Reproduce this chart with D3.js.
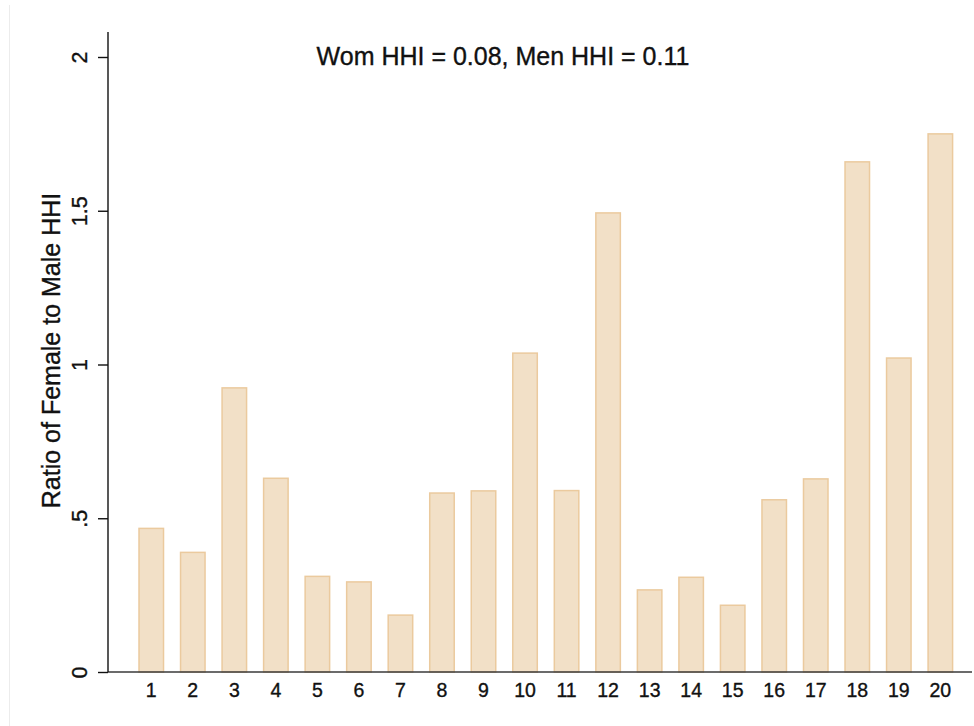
<!DOCTYPE html>
<html>
<head>
<meta charset="utf-8">
<script src="https://cdn.jsdelivr.net/npm/d3@7"></script>
<style>
  html, body { margin: 0; padding: 0; background: #ffffff; }
  svg { display: block; font-family: "Liberation Sans", Arial, sans-serif; }
  svg text { stroke: #111; stroke-width: 0.35px; }
</style>
</head>
<body>
<svg id="chart" width="974" height="726"></svg>
<script>
// ---- data ----
const categories = ["1","2","3","4","5","6","7","8","9","10","11","12","13","14","15","16","17","18","19","20"];
const ratioValues = [0.467, 0.389, 0.924, 0.630, 0.311, 0.293, 0.185, 0.582, 0.589, 1.037,
                     0.590, 1.493, 0.267, 0.308, 0.217, 0.560, 0.628, 1.659, 1.021, 1.750];
const yTickValues = [0, 0.5, 1, 1.5, 2];
const yTickLabels = ["0", ".5", "1", "1.5", "2"];
const chartTitle = "Wom HHI = 0.08, Men HHI = 0.11";
const yAxisTitle = "Ratio of Female to Male HHI";

// ---- layout ----
const svg = d3.select("#chart");
const axisX = 108, baseY = 672, topY = 57;

const x = d3.scaleBand().domain(categories).range([130.5, 961.1])
  .paddingInner(0.41).paddingOuter(0.205);
const y = d3.scaleLinear().domain([0, 2]).range([baseY, topY]);

// faint outer border line
svg.append("line").attr("x1", 9.5).attr("x2", 9.5).attr("y1", 5).attr("y2", 726)
  .attr("stroke", "#ececec").attr("stroke-width", 1);

// bars
svg.append("g").selectAll("rect")
  .data(categories.map((c, i) => ({ c, v: ratioValues[i] })))
  .join("rect")
  .attr("x", d => x(d.c))
  .attr("width", x.bandwidth())
  .attr("y", d => y(d.v))
  .attr("height", d => y(0) - y(d.v))
  .attr("fill", "#f2e0c7")
  .attr("stroke", "#ebca9e")
  .attr("stroke-width", 1.5);

// x axis (baseline + labels)
const xAxis = svg.append("g").attr("transform", `translate(0,${baseY})`)
  .call(d3.axisBottom(x).tickSize(0).tickPadding(11));
xAxis.attr("font-size", null).attr("font-family", null);
xAxis.select(".domain").attr("d", `M${axisX},0H972`).attr("stroke", "#3a3a3a").attr("stroke-width", 1.6);
xAxis.selectAll("text")
  .style("font-size", "19.5px").style("font-family", "'Liberation Sans', Arial, sans-serif")
  .attr("fill", "#111").attr("dy", "0.72em");

// y axis
const yAxis = svg.append("g").attr("transform", `translate(${axisX},0)`)
  .call(d3.axisLeft(y).tickValues(yTickValues)
    .tickFormat((d, i) => yTickLabels[i]).tickSize(10).tickSizeOuter(0));
yAxis.attr("font-size", null).attr("font-family", null);
yAxis.select(".domain").attr("d", `M0,${baseY}V32`).attr("stroke", "#111").attr("stroke-width", 1.4);
yAxis.selectAll(".tick line").attr("stroke", "#111").attr("stroke-width", 1.4);
yAxis.selectAll("text")
  .attr("x", 0).attr("y", -21).attr("dy", null)
  .attr("transform", "rotate(-90)")
  .attr("text-anchor", "middle")
  .style("font-size", "21.5px").style("font-family", "'Liberation Sans', Arial, sans-serif")
  .attr("fill", "#111");

// y axis title
svg.append("text")
  .attr("transform", "translate(60,350.5) rotate(-90)")
  .attr("text-anchor", "middle")
  .style("font-size", "25px").attr("fill", "#111")
  .text(yAxisTitle);

// chart title
svg.append("text")
  .attr("x", 503).attr("y", 65)
  .attr("text-anchor", "middle")
  .style("font-size", "25px").attr("fill", "#111")
  .text(chartTitle);
</script>
</body>
</html>
